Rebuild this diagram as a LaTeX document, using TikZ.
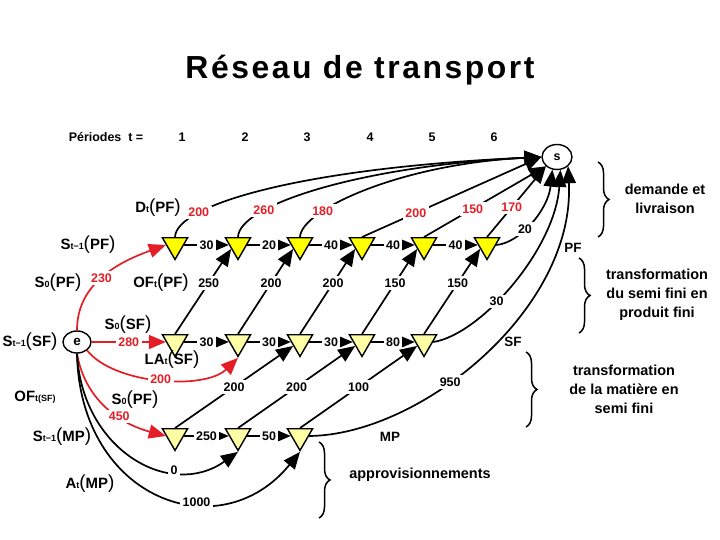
\documentclass[tikz,border=0pt]{standalone}
\usepackage{fontspec}
\setmainfont{Liberation Sans}
\usepackage{tikz}
\usetikzlibrary{arrows.meta, positioning, shapes.geometric,
                decorations.pathreplacing}
\definecolor{rtRed}{RGB}{228,30,38}
\definecolor{rtYellow}{RGB}{255,255,0}
\definecolor{rtPale}{RGB}{255,255,165}

\newcommand{\varlbl}[3]{{\fontsize{15}{16}\selectfont #1}{\fontsize{9}{10}\selectfont #2}{\mdseries\fontsize{19}{19}\selectfont(}{\fontsize{15}{16}\selectfont #3}{\mdseries\fontsize{19}{19}\selectfont)}}

\begin{document}
\begin{tikzpicture}[
    x=1bp, y=1bp, font=\bfseries\fontsize{12.5}{14}\selectfont,
    tri/.style={draw, line width=1.4bp, regular polygon, regular polygon sides=3,
                shape border rotate=180, minimum size=29bp, inner sep=0pt},
    flow/.style={line width=1.7bp, -{Triangle[length=17bp,width=14bp]}},
    redflow/.style={flow, draw=rtRed},
    num/.style={fill=white, inner sep=2.5bp, text=black},
    rnum/.style={num, text=rtRed},
    side/.style={font=\bfseries\fontsize{13.5}{14}\selectfont},
    captxt/.style={align=center, font=\bfseries\fontsize{14.5}{19}\selectfont},
    brc/.style={decorate, decoration={brace, amplitude=11bp}, line width=1.5bp}
]
\useasboundingbox (0,0) rectangle (720,540);

\node[font=\bfseries\fontsize{32}{34}\selectfont\addfontfeature{LetterSpace=8}] (title) at (360,470) {Réseau de transport};
\node (per) at (106,403) {Périodes\ \ t =};
\foreach \i/\x in {1/182,2/245,3/307,4/370,5/432,6/494} {
   \node (t\i) at (\x,403) {\i};
}

\foreach \i/\x in {1/175,2/238,3/300,4/362,5/424,6/487} {
   \node[tri, fill=rtYellow] (p\i) at (\x,295) {};
}
\foreach \i/\x in {1/175,2/238,3/300,4/362,5/424} {
   \node[tri, fill=rtPale] (f\i) at (\x,198) {};
}
\foreach \i/\x in {1/175,2/238,3/300} {
   \node[tri, fill=rtPale] (m\i) at (\x,104) {};
}

\node[draw, ellipse, line width=1.4bp, minimum width=28bp, minimum height=22bp,
      inner sep=0pt, font=\bfseries\fontsize{13.5}{14}\selectfont] (e) at (77,198) {e};
\node[draw, ellipse, line width=1.4bp, minimum width=30bp, minimum height=25bp,
      inner sep=0pt] (s) at (557,383) {s};

\foreach \i/\j/\v in {1/2/30,2/3/20,3/4/40,4/5/40,5/6/40} {
   \draw[flow] (p\i.east) -- node[num]{\v} (p\j.west);
}
\foreach \i/\j/\v in {1/2/30,2/3/30,3/4/30,4/5/80} {
   \draw[flow] (f\i.east) -- node[num]{\v} (f\j.west);
}
\foreach \i/\j/\v in {1/2/250,2/3/50} {
   \draw[flow] (m\i.east) -- node[num]{\v} (m\j.west);
}
\foreach \i/\j/\v in {1/2/250,2/3/200,3/4/200,4/5/150,5/6/150} {
   \draw[flow] (f\i.north) -- node[num, pos=.6]{\v} (p\j.210);
}
\foreach \i/\j/\v in {1/3/200,2/4/200,3/5/100} {
   \draw[flow] (m\i.north) -- node[num, pos=.5]{\v} (f\j.210);
}

\draw[flow] (p1.north) .. controls (176,335) and (300,372) .. (s.west) node[rnum, pos=.25]{200};
\draw[flow] (p2.north) .. controls (239,335) and (360,374) .. (s.west) node[rnum, pos=.27]{260};
\draw[flow] (p3.north) .. controls (301,330) and (400,376) .. (s.west) node[rnum, pos=.28]{180};
\draw[flow] (p4.north) -- node[rnum, pos=.3]{200} (s.west);
\draw[flow] (p5.north) -- node[rnum, pos=.4]{150} (s.220);
\draw[flow] (p6.north) -- node[rnum, pos=.42]{170} (s.220);

\draw[flow] (p6.east) .. controls (520,297) and (548,330) .. (s.250) node[num, pos=.4]{20};
\draw[flow] (f5.east) .. controls (480,205) and (555,290) .. (s.285) node[num, pos=.4]{30};
\draw[flow] (m3.east) .. controls (420,105) and (575,230) .. (s.320) node[num, pos=.4]{950};

\draw[redflow] (e.north) to[out=90, in=200] node[rnum, pos=.47]{230} (p1.west);
\draw[redflow] (e.east) -- node[rnum]{280} (f1.west);
\draw[redflow] (e.-40) .. controls (115,155) and (205,150) .. (f2.south) node[rnum, pos=.5]{200};
\draw[redflow] (e.south) to[out=-80, in=165] node[rnum, pos=.62]{450} (m1.west);
\draw[flow] (e.south) .. controls (82,90) and (170,40) .. (m2.south) node[num, pos=.7]{0};
\draw[flow] (e.south) .. controls (80,40) and (220,-10) .. (m3.south) node[num, pos=.63]{1000};

\node (dpf) at (158,332) {\varlbl{D}{t}{PF}};
\node (spf) at (88,295) {\varlbl{S}{t−1}{PF}};
\node (s0pf) at (58,257) {\varlbl{S}{0}{PF}};
\node (ofpf) at (161,257) {\varlbl{OF}{t}{PF}};
\node (ssf) at (30,198) {\varlbl{S}{t−1}{SF}};
\node (s0sf) at (128,215) {\varlbl{S}{0}{SF}};
\node (lasf) at (172,180) {\varlbl{LA}{t}{SF}};
\node (ofsf) at (35,143) {{\fontsize{15}{16}\selectfont OF}{\fontsize{9}{10}\selectfont t(SF)}};
\node (s0pfb) at (135,140) {\varlbl{S}{0}{PF}};
\node (smp) at (62,103) {\varlbl{S}{t−1}{MP}};
\node (amp) at (90,56) {\varlbl{A}{t}{MP}};

\node[side] (lpf) at (573,292) {PF};
\node[side] (lsf) at (513,198) {SF};
\node[side] (lmp) at (390,103) {MP};

\draw[brc] (598,378) -- (598,303);
\node[captxt] (c1) at (665,341) {demande et\\livraison};
\draw[brc] (579,282) -- (579,207);
\node[captxt] (c2) at (657,245) {transformation\\du semi fini en\\produit fini};
\draw[brc] (526,188) -- (526,113);
\node[captxt] (c3) at (624,151) {transformation\\de la matière en\\semi fini};
\draw[brc] (319,98) -- (319,22);
\node[captxt] (c4) at (420,65) {approvisionnements};
\end{tikzpicture}
\end{document}
